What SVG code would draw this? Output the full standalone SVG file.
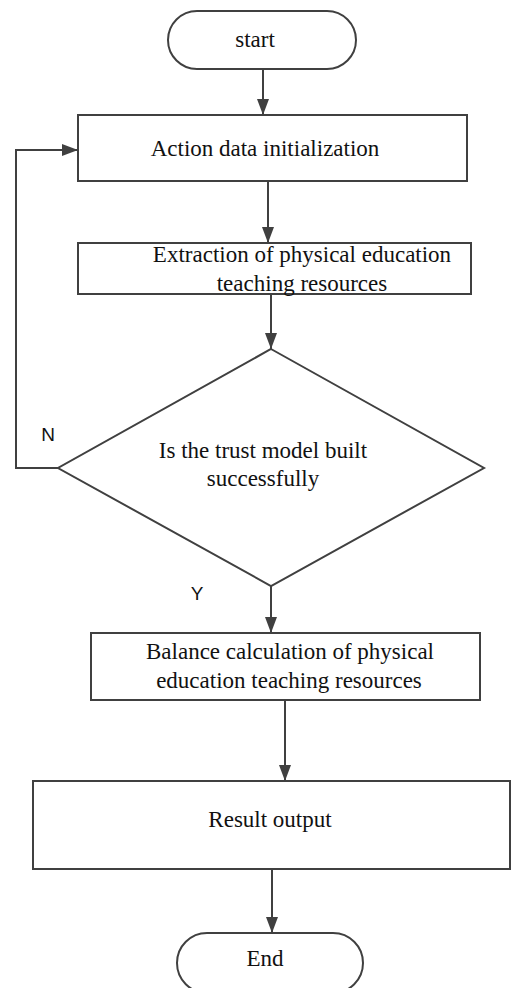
<svg xmlns="http://www.w3.org/2000/svg" width="512" height="988" viewBox="0 0 512 988">
<style>
.shape{fill:#fff;stroke:#404040;stroke-width:2}
.lbl{font-family:"Liberation Serif","Times New Roman",serif;font-size:23px;fill:#111;text-anchor:middle}
.yn{font-family:"Liberation Sans",Arial,sans-serif;font-size:19px;fill:#111;text-anchor:middle}
.conn{fill:none;stroke:#404040;stroke-width:2}
</style>
<defs>
<marker id="ah" viewBox="0 0 16 12" refX="16" refY="6" markerWidth="16" markerHeight="12" markerUnits="userSpaceOnUse" orient="auto">
<path d="M0,0 L16,6 L0,12 z" fill="#404040"/>
</marker>
</defs>
<rect width="512" height="988" fill="#fff"/>
<g id="connectors">
<line class="conn" x1="263" y1="69" x2="263" y2="115" marker-end="url(#ah)"/>
<line class="conn" x1="268" y1="181" x2="268" y2="243" marker-end="url(#ah)"/>
<line class="conn" x1="271" y1="294" x2="271" y2="349" marker-end="url(#ah)"/>
<polyline class="conn" points="58,468 16,468 16,150 78,150" marker-end="url(#ah)"/>
<line class="conn" x1="271" y1="586" x2="271" y2="633" marker-end="url(#ah)"/>
<line class="conn" x1="285" y1="700" x2="285" y2="781" marker-end="url(#ah)"/>
<line class="conn" x1="272" y1="869" x2="272" y2="933" marker-end="url(#ah)"/>
<text class="yn" x="48" y="441">N</text>
<text class="yn" x="197" y="600">Y</text>
</g>
<g id="start">
<rect class="shape" x="168" y="11" width="188" height="58" rx="29" ry="29"/>
<text class="lbl" x="255" y="47">start</text>
</g>
<g id="init">
<rect class="shape" x="78" y="115" width="389" height="66"/>
<text class="lbl" x="265" y="156">Action data initialization</text>
</g>
<g id="extract">
<rect class="shape" x="78" y="243" width="393" height="51"/>
<text class="lbl" x="302" y="262">Extraction of physical education</text>
<text class="lbl" x="302" y="291">teaching resources</text>
</g>
<g id="decision">
<polygon class="shape" points="271,349 484,468 271,586 58,468"/>
<text class="lbl" x="263" y="458">Is the trust model built</text>
<text class="lbl" x="263" y="486">successfully</text>
</g>
<g id="balance">
<rect class="shape" x="91" y="633" width="389" height="67"/>
<text class="lbl" x="290" y="659">Balance calculation of physical</text>
<text class="lbl" x="289" y="688">education teaching resources</text>
</g>
<g id="result">
<rect class="shape" x="33" y="781" width="477" height="88"/>
<text class="lbl" x="270" y="827">Result output</text>
</g>
<g id="end">
<rect class="shape" x="177" y="933" width="186" height="60" rx="30" ry="30"/>
<text class="lbl" x="265" y="966">End</text>
</g>
</svg>
